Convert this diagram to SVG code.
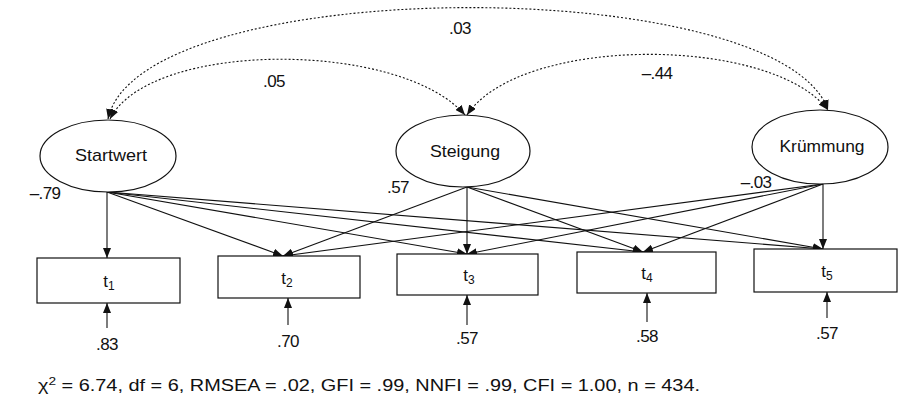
<svg xmlns="http://www.w3.org/2000/svg" width="900" height="403" viewBox="0 0 900 403">
<style>
text{font-family:"Liberation Sans",Arial,sans-serif;fill:#111;text-anchor:middle}
.lbl{font-size:17px}
.num{font-size:17px;letter-spacing:-0.6px}
.node{fill:#fff;stroke:#111;stroke-width:1.2}
.path{stroke:#111;stroke-width:1.1;fill:none}
.cov{stroke:#111;stroke-width:1.1;fill:none;stroke-dasharray:2,2}
.sub{font-size:12px}
</style>
<defs>
<marker id="ah" markerUnits="userSpaceOnUse" markerWidth="10" markerHeight="8" refX="10" refY="4" orient="auto-start-reverse" viewBox="0 0 10 8">
<path d="M0,0 L10,4 L0,8 z" fill="#111"/>
</marker>
</defs>
<rect width="900" height="403" fill="#fff"/>
<g id="connectors">
<path class="cov" d="M108,119 C140,-28 780,-28 828,110" marker-start="url(#ah)" marker-end="url(#ah)"/>
<path class="cov" d="M110,119 C150,40 400,40 465,115" marker-start="url(#ah)" marker-end="url(#ah)"/>
<path class="cov" d="M467,115 C520,35 770,35 828,110" marker-start="url(#ah)" marker-end="url(#ah)"/>
<line class="path" x1="107" y1="192" x2="107" y2="258" marker-end="url(#ah)"/>
<line class="path" x1="107" y1="192" x2="283" y2="256" marker-end="url(#ah)"/>
<line class="path" x1="107" y1="192" x2="467" y2="254" marker-end="url(#ah)"/>
<line class="path" x1="107" y1="192" x2="643" y2="252" marker-end="url(#ah)"/>
<line class="path" x1="107" y1="192" x2="823" y2="249" marker-end="url(#ah)"/>
<line class="path" x1="467" y1="187" x2="283" y2="256" marker-end="url(#ah)"/>
<line class="path" x1="467" y1="187" x2="467" y2="254" marker-end="url(#ah)"/>
<line class="path" x1="467" y1="187" x2="643" y2="252" marker-end="url(#ah)"/>
<line class="path" x1="467" y1="187" x2="823" y2="249" marker-end="url(#ah)"/>
<line class="path" x1="823" y1="184" x2="283" y2="256" marker-end="url(#ah)"/>
<line class="path" x1="823" y1="184" x2="467" y2="254" marker-end="url(#ah)"/>
<line class="path" x1="823" y1="184" x2="643" y2="252" marker-end="url(#ah)"/>
<line class="path" x1="823" y1="184" x2="823" y2="249" marker-end="url(#ah)"/>
<line class="path" x1="107" y1="328" x2="107" y2="303" marker-end="url(#ah)"/>
<line class="path" x1="288" y1="325" x2="288" y2="298" marker-end="url(#ah)"/>
<line class="path" x1="467" y1="325" x2="467" y2="295" marker-end="url(#ah)"/>
<line class="path" x1="647" y1="322" x2="647" y2="293" marker-end="url(#ah)"/>
<line class="path" x1="827" y1="318" x2="827" y2="292" marker-end="url(#ah)"/>
</g>
<g id="startwert">
<ellipse class="node" cx="108" cy="156" rx="68" ry="36"/>
<text class="lbl" x="111" y="161" textLength="72" lengthAdjust="spacingAndGlyphs">Startwert</text>
</g>
<g id="steigung">
<ellipse class="node" cx="463" cy="151" rx="67" ry="36"/>
<text class="lbl" x="465" y="157" textLength="70" lengthAdjust="spacingAndGlyphs">Steigung</text>
</g>
<g id="kruemmung">
<ellipse class="node" cx="820" cy="147" rx="68" ry="37"/>
<text class="lbl" x="822" y="152" textLength="85" lengthAdjust="spacingAndGlyphs">Krümmung</text>
</g>
<g id="t1">
<rect class="node" x="37" y="258" width="143" height="45"/>
<text class="lbl" x="109" y="287">t<tspan class="sub" dy="3">1</tspan></text>
</g>
<g id="t2">
<rect class="node" x="218" y="256" width="142" height="42"/>
<text class="lbl" x="287" y="284">t<tspan class="sub" dy="3">2</tspan></text>
</g>
<g id="t3">
<rect class="node" x="397" y="254" width="141" height="41"/>
<text class="lbl" x="469" y="281">t<tspan class="sub" dy="3">3</tspan></text>
</g>
<g id="t4">
<rect class="node" x="577" y="252" width="139" height="41"/>
<text class="lbl" x="647" y="279">t<tspan class="sub" dy="3">4</tspan></text>
</g>
<g id="t5">
<rect class="node" x="754" y="249" width="143" height="43"/>
<text class="lbl" x="827" y="277">t<tspan class="sub" dy="3">5</tspan></text>
</g>
<g id="labels">
<text class="num" x="460" y="34">.03</text>
<text class="num" x="274" y="87">.05</text>
<text class="num" x="657" y="79">–.44</text>
<text class="num" x="45" y="199">–.79</text>
<text class="num" x="398" y="193">.57</text>
<text class="num" x="756" y="188">–.03</text>
<text class="num" x="107" y="350">.83</text>
<text class="num" x="288" y="347">.70</text>
<text class="num" x="467" y="344">.57</text>
<text class="num" x="647" y="342">.58</text>
<text class="num" x="827" y="339">.57</text>
<text x="38" y="391" font-size="16" style="text-anchor:start" textLength="662" lengthAdjust="spacingAndGlyphs">χ<tspan font-size="11" dy="-6">2</tspan><tspan dy="6"> = 6.74, df = 6, RMSEA = .02, GFI = .99, NNFI = .99, CFI = 1.00, n = 434.</tspan></text>
</g>
</svg>
